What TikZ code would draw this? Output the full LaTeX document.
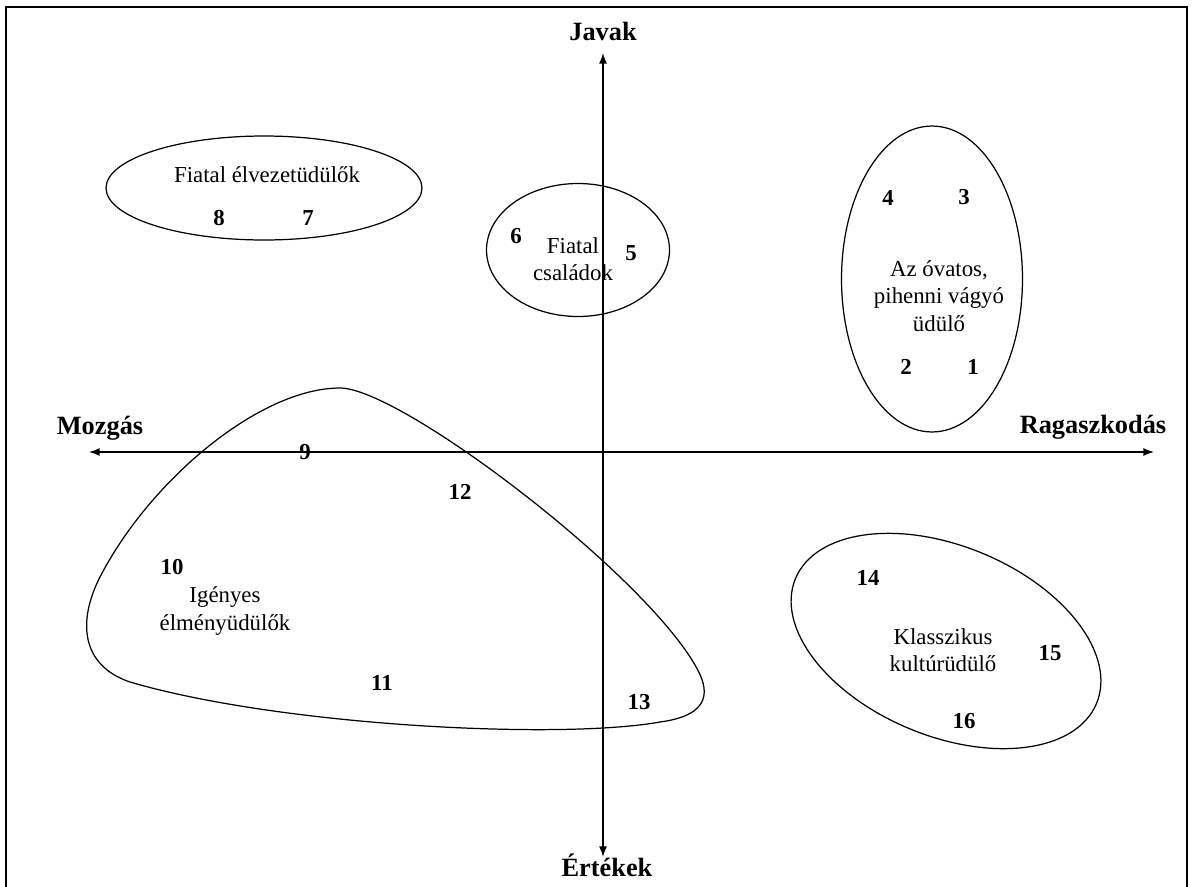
\documentclass[tikz,border=0pt]{standalone}
\usepackage{fontspec}
\setmainfont{Liberation Serif}
\usetikzlibrary{arrows.meta,positioning,shapes.geometric}

\tikzset{
    axis/.style={line width=0.8pt, {Latex[length=6pt,width=4.5pt]}-{Latex[length=6pt,width=4.5pt]}},
    group/.style={draw, ellipse, inner sep=0pt, line width=0.7pt},
    blob/.style={line width=0.7pt},
    lbl/.style={font=\fontsize{13}{15.5}\selectfont, align=center},
    num/.style={font=\fontsize{13}{15.5}\selectfont\bfseries},
    axlbl/.style={font=\fontsize{15}{18}\selectfont\bfseries},
}

\begin{document}
\begin{tikzpicture}[x=0.02cm, y=-0.02cm
    , every node/.style={inner sep=1pt}
]
    \useasboundingbox (0,0) rectangle (1193,886);
    \draw[line width=1pt] (6,900) -- (6,7) -- (1187,7) -- (1187,900);

    % Axes
    \coordinate (axtop) at (603,53);
    \coordinate (axbottom) at (603,857);
    \coordinate (axleft) at (89,452);
    \coordinate (axright) at (1154,452);
    \draw[axis] (axbottom) -- (axtop);
    \draw[axis] (axleft) -- (axright);

    \node[axlbl, above=2mm of axtop] (javak) {Javak};
    \node[axlbl] (ertekek) at (607,865) {Értékek};
    \node[axlbl] (mozgas) at (100,428) {Mozgás};
    \node[axlbl] (ragasz) at (1093,427) {Ragaszkodás};

    % Groups
    \node[group, minimum width=6.32cm, minimum height=2.08cm] (elvezet) at (264,188) {};
    \node[lbl] (elvezettxt) at (267,175) {Fiatal élvezetüdülők};

    \node[group, minimum width=3.66cm, minimum height=2.66cm] (csalad) at (578,250) {};
    \node[lbl] (csaladtxt) at (573,259) {Fiatal\\családok};

    \node[group, minimum width=3.62cm, minimum height=6.12cm] (ovatos) at (932,279) {};
    \node[lbl] (ovatostxt) at (939,296) {Az óvatos,\\pihenni vágyó\\üdülő};

    \node[group, minimum width=6.52cm, minimum height=3.8cm, rotate=-22.5] (kultur) at (946,641) {};
    \node[lbl] (kulturtxt) at (943,650) {Klasszikus\\kultúrüdülő};

    \draw[blob] (340,388)
        .. controls (400,388) and (640,570) .. (695,665)
        .. controls (710,690) and (712,715) .. (660,722)
        .. controls (560,740) and (280,726) .. (130,682)
        .. controls (80,665) and (78,620) .. (100,577)
        .. controls (150,480) and (260,388) .. cycle;
    \node[lbl] (igenyestxt) at (225,611) {Igényes\\élményüdülők};

    % Points
    \foreach \n/\x/\y in {1/973/367, 2/906/367, 3/964/197, 4/888/198,
        5/631/253, 6/516/236, 7/308/218, 8/219/218, 9/305/452,
        10/172/567, 11/382/683, 12/460/492, 13/639/702,
        14/868/578, 15/1050/653, 16/964/721}
        \node[num] (p\n) at (\x,\y) {\n};

\end{tikzpicture}
\end{document}
